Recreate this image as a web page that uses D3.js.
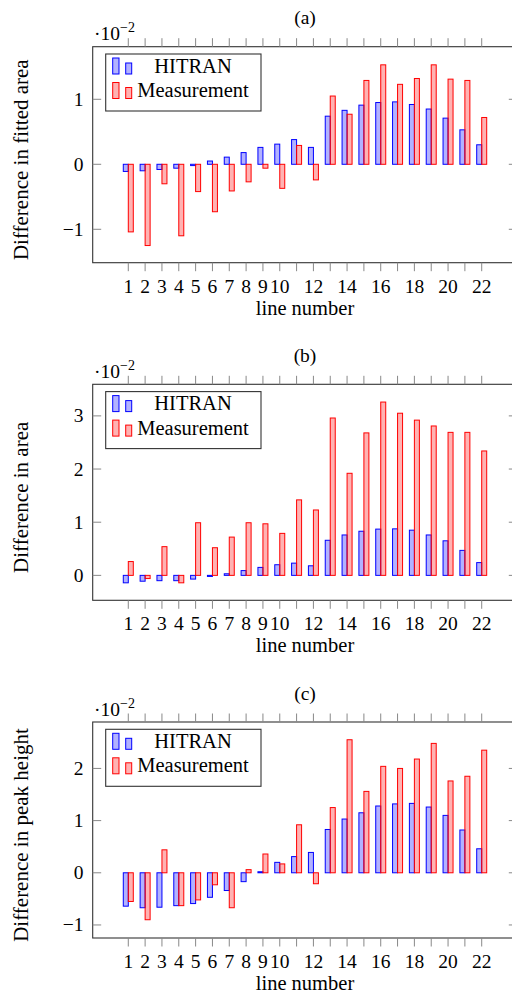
<!DOCTYPE html>
<html><head><meta charset="utf-8">
<script src="https://cdn.jsdelivr.net/npm/d3@7"></script>
<style>
body{margin:0;background:#fff;}
text{font-family:"Liberation Serif","Times New Roman",serif;fill:#000;}
</style></head>
<body>
<svg id="c" width="512" height="994"></svg>
<script>
const lineNumbers = [1,2,3,4,5,6,7,8,9,10,11,12,13,14,15,16,17,18,19,20,21,22];
const xTickLabels = [1,2,3,4,5,6,7,8,9,10,12,14,16,18,20,22];
const seriesNames = ["HITRAN","Measurement"];

const fittedAreaHitran = [-0.11,-0.10,-0.08,-0.06,-0.02,0.05,0.11,0.18,0.26,0.31,0.38,0.26,0.74,0.83,0.91,0.95,0.96,0.92,0.85,0.71,0.53,0.30];
const fittedAreaMeas   = [-1.04,-1.25,-0.30,-1.10,-0.42,-0.73,-0.41,-0.27,-0.06,-0.37,0.29,-0.24,1.05,0.77,1.29,1.53,1.23,1.32,1.53,1.31,1.29,0.72];

const areaHitran = [-0.14,-0.11,-0.10,-0.10,-0.07,-0.02,0.03,0.09,0.15,0.20,0.23,0.18,0.66,0.76,0.83,0.87,0.875,0.85,0.76,0.65,0.47,0.24];
const areaMeas   = [0.26,-0.06,0.54,-0.14,0.99,0.52,0.72,0.99,0.97,0.79,1.42,1.23,2.96,1.92,2.68,3.26,3.05,2.92,2.81,2.69,2.69,2.34];

const peakHitran = [-0.64,-0.67,-0.66,-0.63,-0.59,-0.47,-0.34,-0.17,0.02,0.20,0.31,0.39,0.83,1.03,1.15,1.28,1.32,1.33,1.26,1.10,0.82,0.46];
const peakMeas   = [-0.55,-0.90,0.44,-0.63,-0.52,-0.23,-0.67,0.06,0.36,0.17,0.92,-0.21,1.25,2.55,1.56,2.04,2.00,2.18,2.48,1.76,1.85,2.35];

const panels = [
  {title:"(a)", ylabel:"Difference in fitted area", h:fittedAreaHitran, m:fittedAreaMeas, ydom:[-1.514,1.809], yticks:[-1,0,1], top:46.7},
  {title:"(b)", ylabel:"Difference in area", h:areaHitran, m:areaMeas, ydom:[-0.469,3.594], yticks:[0,1,2,3], top:384.3},
  {title:"(c)", ylabel:"Difference in peak height", h:peakHitran, m:peakMeas, ydom:[-1.25,2.89], yticks:[-1,0,1,2], top:722}
];

const svg = d3.select("#c");
const L = 92.7, R = 517.3, H = 216;
const x = d3.scaleLinear().domain([-1.115, 24.115]).range([L, R]);
const BW = 5;
const FS = 19.5;
const blue = "#0000ff", red = "#ff0000";
const fmt = v => v < 0 ? "\u2212" + Math.abs(v) : String(v);

panels.forEach(p => {
  const g = svg.append("g");
  const T = p.top, B = T + H;
  const y = d3.scaleLinear().domain(p.ydom).range([B, T]);

  g.selectAll("rect.h").data(lineNumbers).enter().append("rect")
    .attr("x", d => x(d) - BW).attr("width", BW)
    .attr("y", (d,i) => Math.min(y(p.h[i]), y(0)))
    .attr("height", (d,i) => Math.abs(y(p.h[i]) - y(0)))
    .attr("fill", blue).attr("fill-opacity", 0.3)
    .attr("stroke", blue).attr("stroke-width", 1);
  g.selectAll("rect.m").data(lineNumbers).enter().append("rect")
    .attr("x", d => x(d)).attr("width", BW)
    .attr("y", (d,i) => Math.min(y(p.m[i]), y(0)))
    .attr("height", (d,i) => Math.abs(y(p.m[i]) - y(0)))
    .attr("fill", red).attr("fill-opacity", 0.3)
    .attr("stroke", red).attr("stroke-width", 1);

  g.append("rect").attr("x", L).attr("y", T).attr("width", R - L).attr("height", H)
    .attr("fill", "none").attr("stroke", "#333").attr("stroke-width", 1.1);

  const tk = 8.5;
  lineNumbers.forEach(v => {
    g.append("line").attr("x1", x(v)).attr("x2", x(v)).attr("y1", B).attr("y2", B + tk)
      .attr("stroke", "#888").attr("stroke-width", 1);
    g.append("line").attr("x1", x(v)).attr("x2", x(v)).attr("y1", T).attr("y2", T - tk)
      .attr("stroke", "#888").attr("stroke-width", 1);
  });
  xTickLabels.forEach(v => {
    g.append("text").attr("x", x(v)).attr("y", B + 30).attr("text-anchor", "middle")
      .attr("font-size", FS).text(v);
  });
  p.yticks.forEach(v => {
    g.append("line").attr("x1", L).attr("x2", L + tk).attr("y1", y(v)).attr("y2", y(v))
      .attr("stroke", "#888").attr("stroke-width", 1);
    g.append("line").attr("x1", R).attr("x2", R - tk).attr("y1", y(v)).attr("y2", y(v))
      .attr("stroke", "#888").attr("stroke-width", 1);
    g.append("text").attr("x", 83.5).attr("y", y(v) + 6.5).attr("text-anchor", "end")
      .attr("font-size", FS).text(fmt(v));
  });

  const sl = g.append("text").attr("x", 94).attr("y", T - 6.5).attr("font-size", FS);
  sl.append("tspan").text("\u00b710");
  sl.append("tspan").attr("dy", -8).attr("font-size", 14).text("\u22122");

  g.append("text").attr("x", (L + R) / 2).attr("y", T - 22.5).attr("text-anchor", "middle")
    .attr("font-size", FS).text(p.title);
  g.append("text").attr("x", (L + R) / 2).attr("y", B + 52).attr("text-anchor", "middle")
    .attr("font-size", 20.5).text("line number");
  g.append("text").attr("transform", `translate(28,${(T + B) / 2 + 5}) rotate(-90)`)
    .attr("text-anchor", "middle").attr("font-size", 21).text(p.ylabel);

  const lg = g.append("g");
  lg.append("rect").attr("x", 105.7).attr("y", T + 7.3).attr("width", 155.3).attr("height", 57)
    .attr("fill", "#fff").attr("stroke", "#333").attr("stroke-width", 1.1);
  const rows = [{c: blue, dy: 0}, {c: red, dy: 24.5}];
  rows.forEach((r, i) => {
    const base = T + 27.3 + r.dy;
    lg.append("rect").attr("x", 112.7).attr("y", base - 16).attr("width", 6.3).attr("height", 16)
      .attr("fill", r.c).attr("fill-opacity", 0.3).attr("stroke", r.c);
    lg.append("rect").attr("x", 125.7).attr("y", base - 11).attr("width", 6).attr("height", 11)
      .attr("fill", r.c).attr("fill-opacity", 0.3).attr("stroke", r.c);
    lg.append("text").attr("x", 193).attr("y", base - 1.5).attr("text-anchor", "middle")
      .attr("font-size", 20.5).text(seriesNames[i]);
  });
});
</script>
</body></html>
